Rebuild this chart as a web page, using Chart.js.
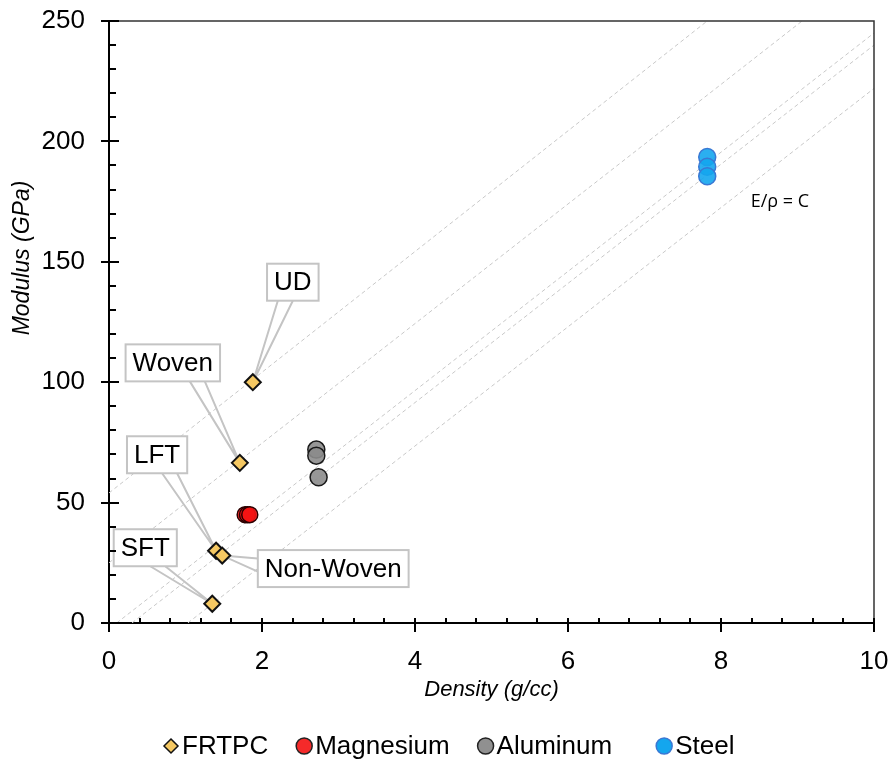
<!DOCTYPE html>
<html>
<head>
<meta charset="utf-8">
<script src="https://cdn.jsdelivr.net/npm/chart.js@4.4.0/dist/chart.umd.min.js"></script>
<style>
  body { margin: 0; background: #fff; }
  #wrap { width: 891px; height: 763px; }
</style>
</head>
<body>
<div id="wrap"><canvas id="modulusChart" width="891" height="763"></canvas></div>
<script>
// FRTPC grades
var frtpcNames = ['UD', 'Woven', 'LFT', 'Non-Woven', 'SFT'];
var frtpcDensity = [1.88, 1.71, 1.40, 1.48, 1.35];
var frtpcModulus = [100, 66.5, 30, 28, 8];

// metals
var magDensity = [1.78, 1.81, 1.84];
var magModulus = [45, 45, 45];
var aluDensity = [2.71, 2.71, 2.74];
var aluModulus = [72, 69.5, 60.5];
var steelDensity = [7.82, 7.82, 7.82];
var steelModulus = [193.5, 189.5, 185.5];

// E/rho = C guide lines (start / end points)
var guideStartX = [0, 0, 0.1, 0.3, 1.03];
var guideStartY = [54, 25, 0, 0, 0];
var guideEndX = [7.82, 9.06, 10, 10, 10];
var guideEndY = [250, 250, 245, 240, 222];

var xTicks = [0, 2, 4, 6, 8, 10];
var yTicks = [0, 50, 100, 150, 200, 250];

var FONT = '"Liberation Sans", Arial, sans-serif';

function pts(xs, ys) {
  return xs.map(function (x, i) { return { x: x, y: ys[i] }; });
}

function isMajor(v, list) {
  return list.some(function (t) { return Math.abs(t - v) < 1e-6; });
}

// callout boxes, offsets in pixels from the point
var callouts = {
  'UD': { dx: 40, dy: -100, side: 'bottom', a: -15 },
  'Woven': { dx: -67, dy: -100, side: 'bottom', a: 17 },
  'LFT': { dx: -59, dy: -96, side: 'bottom', a: 5 },
  'Non-Woven': { dx: 111, dy: 13, side: 'left', a: -10 },
  'SFT': { dx: -67, dy: -56, side: 'bottom', a: 5 }
};

function drawCallouts(chart) {
  var ctx = chart.ctx;
  var xs = chart.scales.x, ys = chart.scales.y;
  ctx.save();
  ctx.font = '26px ' + FONT;
  frtpcNames.forEach(function (name, i) {
    var c = callouts[name];
    var px = xs.getPixelForValue(frtpcDensity[i]);
    var py = ys.getPixelForValue(frtpcModulus[i]);
    var w = ctx.measureText(name).width + 14, h = 37;
    var cx = px + c.dx, cy = py + c.dy;
    var left = cx - w / 2, top = cy - h / 2;
    // wedge
    ctx.strokeStyle = '#c4c4c4';
    ctx.lineWidth = 2;
    ctx.beginPath();
    if (c.side === 'bottom') {
      ctx.moveTo(cx + c.a, top + h);
      ctx.lineTo(px, py);
      ctx.lineTo(cx + c.a + 15, top + h);
    } else {
      ctx.moveTo(left, cy + c.a);
      ctx.lineTo(px, py);
      ctx.lineTo(left, cy + c.a + 13);
    }
    ctx.stroke();
    // box
    ctx.fillStyle = '#fff';
    ctx.fillRect(left, top, w, h);
    ctx.strokeRect(left, top, w, h);
    ctx.fillStyle = '#000';
    ctx.textAlign = 'center';
    ctx.textBaseline = 'middle';
    ctx.fillText(name, cx, cy + 1);
  });
  ctx.restore();
}

var chartDecor = {
  id: 'chartDecor',
  afterDatasetDraw: function (chart, args) {
    if (args.index === 4) drawCallouts(chart);
  },
  afterDraw: function (chart) {
    var ctx = chart.ctx, a = chart.chartArea;
    var xs = chart.scales.x, ys = chart.scales.y;
    ctx.save();
    // top and right frame
    ctx.strokeStyle = '#333';
    ctx.lineWidth = 1.5;
    ctx.beginPath();
    ctx.moveTo(a.left, a.top);
    ctx.lineTo(a.right, a.top);
    ctx.lineTo(a.right, a.bottom);
    ctx.stroke();
    // tick marks
    ctx.strokeStyle = '#000';
    ctx.lineWidth = 2;
    ctx.beginPath();
    xs.ticks.forEach(function (t) {
      var p = Math.round(xs.getPixelForValue(t.value));
      if (isMajor(t.value, xTicks)) {
        ctx.moveTo(p, a.bottom - 5); ctx.lineTo(p, a.bottom + 9);
      } else {
        ctx.moveTo(p, a.bottom - 5); ctx.lineTo(p, a.bottom);
      }
    });
    ys.ticks.forEach(function (t) {
      var p = Math.round(ys.getPixelForValue(t.value));
      if (isMajor(t.value, yTicks)) {
        ctx.moveTo(a.left - 8, p); ctx.lineTo(a.left + 10, p);
      } else {
        ctx.moveTo(a.left, p); ctx.lineTo(a.left + 7, p);
      }
    });
    ctx.stroke();

    // axis titles
    ctx.fillStyle = '#000';
    ctx.font = 'italic 22px ' + FONT;
    ctx.textAlign = 'center';
    ctx.textBaseline = 'middle';
    ctx.fillText('Density (g/cc)', (a.left + a.right) / 2, 690);
    ctx.save();
    ctx.font = 'italic 23px ' + FONT;
    ctx.translate(23, 258);
    ctx.rotate(-Math.PI / 2);
    ctx.fillText('Modulus (GPa)', 0, 0);
    ctx.restore();

    // E/rho = C note
    ctx.font = '18px "Open Sans", sans-serif';
    ctx.fillText('E/\u03c1 = C', xs.getPixelForValue(8.77), ys.getPixelForValue(175));

    // legend
    var items = [
      { label: 'FRTPC', shape: 'diamond', fill: '#f5c862', stroke: '#111' },
      { label: 'Magnesium', shape: 'circle', fill: '#f52a2a', stroke: '#222' },
      { label: 'Aluminum', shape: 'circle', fill: '#909090', stroke: '#222' },
      { label: 'Steel', shape: 'circle', fill: '#14a6ee', stroke: '#3a78d4' }
    ];
    ctx.font = '26px ' + FONT;
    ctx.textAlign = 'left';
    var x = 171, y = 746;
    items.forEach(function (it, k) {
      ctx.fillStyle = it.fill;
      ctx.strokeStyle = it.stroke;
      ctx.lineWidth = 1.5;
      ctx.beginPath();
      if (it.shape === 'diamond') {
        ctx.moveTo(x, y - 7); ctx.lineTo(x + 7, y); ctx.lineTo(x, y + 7); ctx.lineTo(x - 7, y);
        ctx.closePath();
      } else {
        ctx.arc(x, y, 8, 0, Math.PI * 2);
      }
      ctx.fill();
      ctx.stroke();
      ctx.fillStyle = '#000';
      ctx.fillText(it.label, x + 11, y + 1);
      x += 11 + ctx.measureText(it.label).width + (k === 2 ? 52 : 36);
    });
    ctx.restore();
  }
};

var datasets = [
  {
    label: 'FRTPC', data: pts(frtpcDensity, frtpcModulus),
    pointStyle: 'rectRot', pointRadius: 8, pointHoverRadius: 8,
    backgroundColor: '#f5c862', borderColor: '#111', borderWidth: 2
  },
  {
    label: 'Magnesium', data: pts(magDensity, magModulus),
    pointRadius: 8, pointHoverRadius: 8,
    backgroundColor: 'rgba(245,20,20,0.9)', borderColor: '#2a0000', borderWidth: 1.5
  },
  {
    label: 'Aluminum', data: pts(aluDensity, aluModulus),
    pointRadius: 8.5, pointHoverRadius: 8.5,
    backgroundColor: 'rgba(140,140,140,0.9)', borderColor: '#1a1a1a', borderWidth: 1.5
  },
  {
    label: 'Steel', data: pts(steelDensity, steelModulus),
    pointRadius: 8.5, pointHoverRadius: 8.5,
    backgroundColor: 'rgba(20,166,238,0.9)', borderColor: '#3a78d4', borderWidth: 1.5
  }
];

guideStartX.forEach(function (sx, i) {
  datasets.push({
    label: 'guide' + i,
    type: 'line',
    data: [{ x: sx, y: guideStartY[i] }, { x: guideEndX[i], y: guideEndY[i] }],
    borderColor: '#c8c8c8', borderWidth: 1, borderDash: [4, 3],
    pointRadius: 0, fill: false, tension: 0
  });
});

var ctx = document.getElementById('modulusChart').getContext('2d');
var chart = new Chart(ctx, {
  type: 'scatter',
  data: { datasets: datasets },
  options: {
    responsive: false,
    animation: false,
    layout: { padding: { top: 21, right: 17, left: 0, bottom: 0 } },
    plugins: { legend: { display: false }, tooltip: { enabled: false } },
    scales: {
      x: {
        type: 'linear', min: 0, max: 10,
        afterFit: function (s) { s.height = 140; s.paddingLeft = 0; s.paddingRight = 0; },
        grid: { display: false, drawTicks: false },
        border: { display: true, color: '#000', width: 2 },
        ticks: {
          stepSize: 0.4, autoSkip: false, maxRotation: 0, padding: 23,
          color: '#000', font: { family: FONT, size: 26 },
          callback: function (v) { return isMajor(v, xTicks) ? String(Math.round(v)) : ''; }
        }
      },
      y: {
        type: 'linear', min: 0, max: 250,
        afterFit: function (s) { s.width = 109; s.paddingTop = 0; s.paddingBottom = 0; },
        grid: { display: false, drawTicks: false },
        border: { display: true, color: '#000', width: 2 },
        ticks: {
          stepSize: 10, autoSkip: false, padding: 24,
          color: '#000', font: { family: FONT, size: 26 },
          callback: function (v) { return isMajor(v, yTicks) ? String(Math.round(v)) : ''; }
        }
      }
    }
  },
  plugins: [chartDecor]
});
</script>
</body>
</html>
